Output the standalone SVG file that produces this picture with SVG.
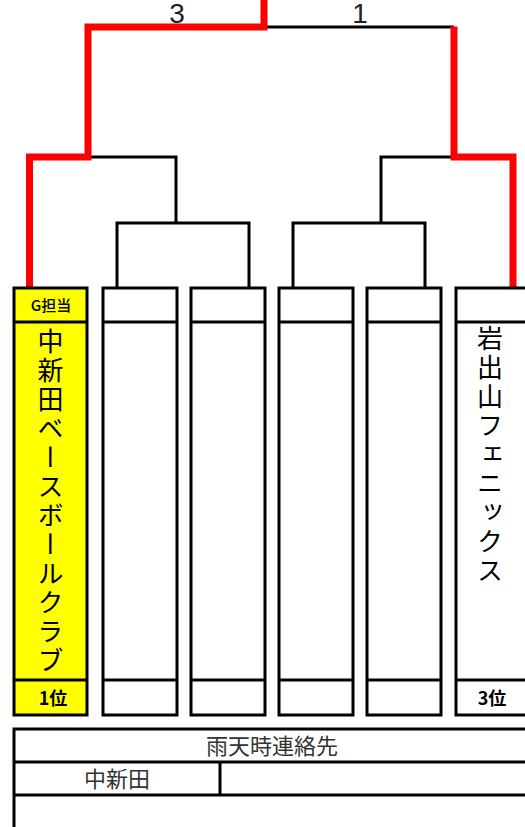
<svg xmlns="http://www.w3.org/2000/svg" width="525" height="827" viewBox="0 0 525 827">
<style>
.box{fill:#fff;stroke:#000;stroke-width:3}
.win{fill:#ffff00}
.ln{stroke:#000;stroke-width:3;fill:none}
.red{stroke:#ff0000;stroke-width:7;fill:none;stroke-linecap:square}
.blk{stroke:#000;stroke-width:3;fill:none}
.jp{font-family:"Noto Sans CJK JP","Liberation Sans",sans-serif;fill:#000}
.vt{writing-mode:vertical-rl;font-size:26px;letter-spacing:3px}
.num{font-family:"Liberation Sans",sans-serif;font-size:28px;fill:#222;text-anchor:middle}
.tb{font-family:"Noto Sans CJK JP",sans-serif;font-size:22px;fill:#333;text-anchor:middle}
.rk{font-size:18px;text-anchor:middle;font-weight:bold}
</style>
<rect width="525" height="827" fill="#fff"/>
<g id="connectors">
<polyline class="blk" points="265,27 454,27"/>
<polyline class="blk" points="88,157 176,157 176,222"/>
<polyline class="blk" points="117,288 117,223 249,223 249,288"/>
<polyline class="blk" points="454,157 381,157 381,222"/>
<polyline class="blk" points="293,288 293,223 425,223 425,288"/>
<polyline class="red" points="264,0 264,27 88,27 88,157 29.5,157 29.5,287"/>
<polyline class="red" points="454,30 454,157 513,157 513,287"/>
</g>
<text class="num" x="177" y="23">3</text>
<text class="num" x="360" y="23">1</text>
<g id="node1">
<rect class="box win" x="14" y="288" width="73" height="427"/>
<line class="ln" x1="14" y1="322" x2="87" y2="322"/>
<line class="ln" x1="14" y1="680" x2="87" y2="680"/>
<text class="jp" x="51" y="311" font-size="15" text-anchor="middle" font-weight="500">G担当</text>
<text class="jp vt" x="50.5" y="328">中新田ベースボールクラブ</text>
<text class="jp rk" x="53" y="705">1位</text>
</g>
<g id="node2">
<rect class="box" x="103" y="288" width="74" height="427"/>
<line class="ln" x1="103" y1="322" x2="177" y2="322"/>
<line class="ln" x1="103" y1="680" x2="177" y2="680"/>
</g>
<g id="node3">
<rect class="box" x="191" y="288" width="74" height="427"/>
<line class="ln" x1="191" y1="322" x2="265" y2="322"/>
<line class="ln" x1="191" y1="680" x2="265" y2="680"/>
</g>
<g id="node4">
<rect class="box" x="279" y="288" width="74" height="427"/>
<line class="ln" x1="279" y1="322" x2="353" y2="322"/>
<line class="ln" x1="279" y1="680" x2="353" y2="680"/>
</g>
<g id="node5">
<rect class="box" x="367" y="288" width="74" height="427"/>
<line class="ln" x1="367" y1="322" x2="441" y2="322"/>
<line class="ln" x1="367" y1="680" x2="441" y2="680"/>
</g>
<g id="node6">
<rect class="box" x="456" y="288" width="80" height="427"/>
<line class="ln" x1="456" y1="322" x2="536" y2="322"/>
<line class="ln" x1="456" y1="680" x2="536" y2="680"/>
<text class="jp vt" x="490" y="325">岩出山フェニックス</text>
<text class="jp rk" x="492" y="705">3位</text>
</g>
<g id="contact">
<rect class="box" x="14" y="729" width="530" height="110"/>
<line class="ln" x1="14" y1="762" x2="544" y2="762"/>
<line class="ln" x1="14" y1="795" x2="544" y2="795"/>
<line class="ln" x1="220" y1="762" x2="220" y2="795"/>
<text class="tb" x="272" y="754">雨天時連絡先</text>
<text class="tb" x="117" y="787">中新田</text>
</g>
</svg>
